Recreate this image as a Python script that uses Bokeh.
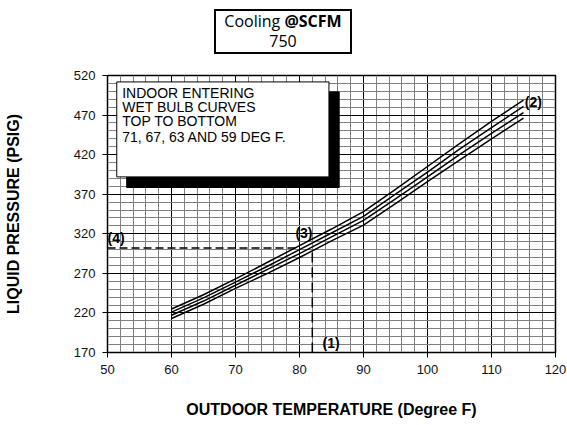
from bokeh.plotting import figure
from bokeh.models import Range1d, FixedTicker, Label, Div
from bokeh.layouts import column
from bokeh.embed import file_html
from bokeh.resources import INLINE

# ---- data ----
temps = [60, 65, 70, 75, 80, 85, 90, 95, 100, 105, 110, 115]
wb71 = [225, 243, 263, 284, 305, 326, 348, 376, 405, 434, 462, 489]
wb67 = [221, 239, 259, 279, 300, 321, 342, 370, 398, 427, 454, 481]
wb63 = [217, 235, 255, 275, 295, 316, 337, 364, 392, 420, 447, 473]
wb59 = [213, 231, 251, 270, 290, 311, 331, 358, 386, 413, 440, 466]

x_ticks = [50, 60, 70, 80, 90, 100, 110, 120]
y_ticks = [170, 220, 270, 320, 370, 420, 470, 520]
x_minor = list(range(50, 121, 2))
y_minor = list(range(170, 521, 10))

example_temp = 82      # (1)
example_press = 302    # (4)
example_curve_end = 80

legend_lines = ["INDOOR ENTERING", "WET BULB CURVES", "TOP TO BOTTOM",
                "71, 67, 63 AND 59 DEG F."]

title_word = "Cooling"
title_bold = "@SCFM"
title_value = "750"

FONT = "Liberation Sans"

# ---------------- header with the boxed title ----------------
header_html = (
    '<div style="position:relative;width:567px;height:64px;margin:0;padding:0;">'
    '<div style="position:absolute;left:214px;top:9px;box-sizing:border-box;'
    'width:138px;height:45px;border:2px solid #000;background:#fff;'
    "font-family:'Open Sans';font-size:16px;line-height:20px;color:#000;"
    'text-align:center;white-space:nowrap;">'
    f'{title_word} <b>{title_bold}</b><br>{title_value}</div></div>'
)
header = Div(text=header_html, width=567, height=64, margin=0)

# ---------------- main chart ----------------
p = figure(width=567, height=361, output_backend="svg", toolbar_location=None,
           title_location=None,
           x_range=Range1d(50, 120), y_range=Range1d(170, 520),
           min_border_left=107, min_border_right=12, min_border_top=11,
           min_border_bottom=73, background_fill_color="white",
           border_fill_color="white")

p.xaxis.ticker = FixedTicker(ticks=x_ticks, minor_ticks=x_minor)
p.yaxis.ticker = FixedTicker(ticks=y_ticks, minor_ticks=y_minor)

for g in (p.xgrid, p.ygrid):
    g.grid_line_color = "black"
    g.grid_line_width = 1
    g.minor_grid_line_color = "#808080"
    g.minor_grid_line_width = 1

for ax in (p.xaxis, p.yaxis):
    ax.axis_line_color = "black"
    ax.major_tick_line_color = "black"
    ax.major_tick_out = 5
    ax.major_tick_in = 0
    ax.minor_tick_line_color = None
    ax.major_label_text_font = FONT
    ax.major_label_text_font_size = "13px"
    ax.major_label_text_color = "#111111"
    ax.major_label_standoff = 7
    ax.axis_label_text_font = FONT
    ax.axis_label_text_font_style = "bold"
    ax.axis_label_text_font_size = "16px"
    ax.axis_label_text_color = "black"

p.xaxis.axis_label = "OUTDOOR TEMPERATURE (Degree F)"
p.yaxis.axis_label = "LIQUID PRESSURE (PSIG)"
p.xaxis.axis_label_standoff = 24
p.yaxis.axis_label_standoff = 49

p.outline_line_color = "black"
p.outline_line_width = 1.5
p.outline_line_alpha = 1

# legend box with shadow
p.quad(left=[53.0], right=[86.2], bottom=[378.5], top=[499.3],
       fill_color="black", line_color="black")
p.quad(left=[51.45], right=[84.6], bottom=[391.9], top=[511.9],
       fill_color="white", line_color="black", line_width=1)
for txt, yy in zip(legend_lines, [498.0, 480.0, 462.0, 442.0]):
    p.add_layout(Label(x=52.3, y=yy, text=txt, text_font=FONT,
                       text_font_size="14px", text_baseline="middle",
                       text_color="black"))

# curves
for series in (wb71, wb67, wb63, wb59):
    p.line(temps, series, line_color="black", line_width=1.5)

# example dashed lines
p.line([50, example_curve_end], [example_press, example_press],
       line_color="black", line_width=1.5, line_dash="8 4")
p.line([example_temp, example_temp], [170, example_press],
       line_color="black", line_width=1.5, line_dash="10 5")

# step labels
for txt, xx, yy, align in [("(1)", 83.6, 182, "left"), ("(2)", 115.2, 486, "left"),
                           ("(3)", 80.7, 321, "center"), ("(4)", 50.0, 315, "left")]:
    p.add_layout(Label(x=xx, y=yy, text=txt, text_font=FONT, text_font_style="bold",
                       text_font_size="14px", text_align=align,
                       text_baseline="middle", text_color="black"))

open("out.html", "w").write(file_html(column(header, p, spacing=0), INLINE))
